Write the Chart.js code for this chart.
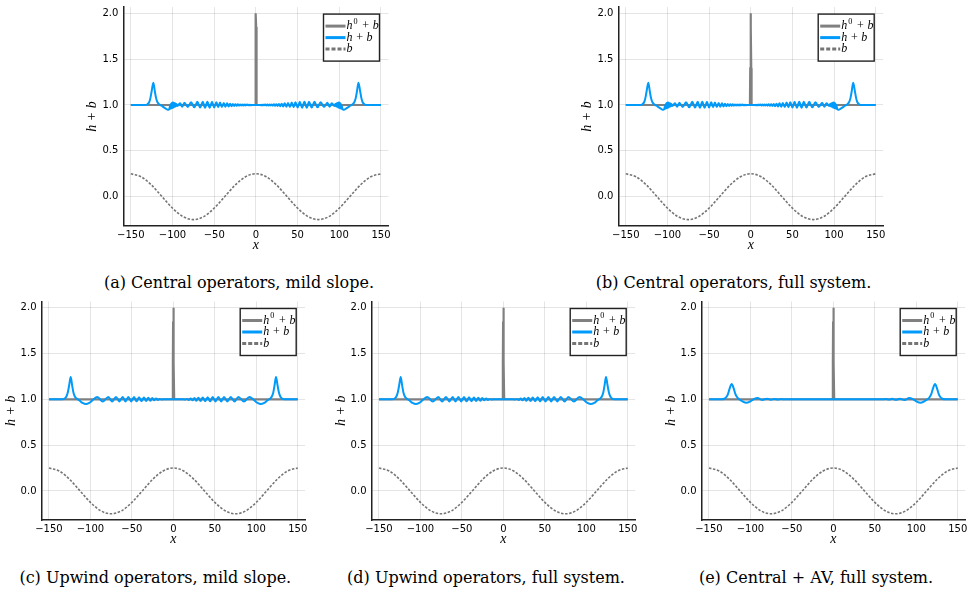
<!DOCTYPE html>
<html><head><meta charset="utf-8">
<script src="https://cdn.jsdelivr.net/npm/chart.js@4.4.0/dist/chart.umd.min.js"></script>
<style>
html,body{margin:0;padding:0;background:#fff;width:974px;height:593px;overflow:hidden;position:relative;}
canvas{position:absolute;}
.cap{position:absolute;font-family:'DejaVu Serif',serif;font-size:16px;line-height:19px;color:#000;white-space:nowrap;transform:translateX(-50%);}
</style></head><body>
<script>
// ---- tick labels ----
const xTicks = [-150, -100, -50, 0, 50, 100, 150];
const yTicks = [0, 0.5, 1, 1.5, 2];
const seriesLabels = ['h^0 + b', 'h + b', 'b'];
const captions = ['(a) Central operators, mild slope.', '(b) Central operators, full system.',
  '(c) Upwind operators, mild slope.', '(d) Upwind operators, full system.', '(e) Central + AV, full system.'];

// ---- initial condition h0 + b ----
const h0X = [-150, -1, -0.6, -0.3, 0, 0.3, 0.6, 1, 150];
const h0Y = [1, 1, 1.4, 1.85, 2, 1.85, 1.4, 1, 1];

// ---- bathymetry b ----
const bX = [-150,-137.5,-125,-112.5,-100,-87.5,-75,-62.5,-50,-37.5,-25,-12.5,0,12.5,25,37.5,50,62.5,75,87.5,100,112.5,125,137.5,150];
const bY = [0.25,0.217,0.125,0,-0.125,-0.217,-0.25,-0.217,-0.125,0,0.125,0.217,0.25,0.217,0.125,0,-0.125,-0.217,-0.25,-0.217,-0.125,0,0.125,0.217,0.25];

// ---- h + b, central operators (panels a, b) ----
const hCentralX = [-150,-133,-130,-128,-126.5,-125,-123,-121.2,-119.7,-118,-115.5,-112,-108,-105.5,-104,
 -103.6,-103.2,-102.8,-102.4,-102,-101.6,-101.2,-100.8,-100.4,-100,-99.6,-99.2,-98.8,-98.4,-98,-97.6,-97.2,-96.8,-96.4,-96,-95.6,-95.2,
 -94.2,-91,-88.3,-85.7,-81.7,-77.7,-73.9,-70.1,-66.9,-63.7,-61,-58.2,-55.4,-52.6,-50,-47.4,-45.2,-43,-40.8,-38.5,-36.5,-34.5,-32.7,-30.9,-29.2,-27.6,-26,-24.5,-23,-21.6,-20.2,-18.9,-17.6,-16.4,-15.2,-14,-12.9,-11.8,-10.8,-9.8,-8.8,-7.9,-7,-6.1,-5.2,-4,
 0,
 4,5.2,6.1,7,7.9,8.8,9.8,10.8,11.8,12.9,14,15.2,16.4,17.6,18.9,20.2,21.6,23,24.5,26,27.6,29.2,30.9,32.7,34.5,36.5,38.5,40.8,43,45.2,47.4,50,52.6,55.4,58.2,61,63.7,66.9,70.1,73.9,77.7,81.7,85.7,88.3,91,94.2,
 95.2,95.6,96,96.4,96.8,97.2,97.6,98,98.4,98.8,99.2,99.6,100,100.4,100.8,101.2,101.6,102,102.4,102.8,103.2,103.6,
 104,105.5,108,112,115.5,118,119.7,121.2,123,125,126.5,128,130,133,150];
const hCentralY = [1,1,1.008,1.03,1.075,1.15,1.243,1.15,1.075,1.03,1.005,0.985,0.96,0.948,0.952,
 0.955,0.99,0.958,1.005,0.962,1.015,0.965,1.022,0.968,1.026,0.97,1.027,0.973,1.025,0.977,1.022,0.98,1.018,0.984,1.014,0.988,1.01,
 0.99,1.018,0.982,1.025,0.978,1.03,0.975,1.034,0.972,1.036,0.97,1.036,0.971,1.034,0.973,1.03,0.976,1.027,0.978,1.022,0.981,1.018,0.984,1.014,0.987,1.011,0.99,1.009,0.992,1.007,0.993,1.006,0.994,1.005,0.995,1.005,0.995,1.004,0.996,1.004,0.996,1.003,0.997,1.003,0.998,1,
 1,
 1,0.998,1.003,0.997,1.003,0.996,1.004,0.996,1.004,0.995,1.005,0.995,1.005,0.994,1.006,0.993,1.007,0.992,1.009,0.99,1.011,0.987,1.014,0.984,1.018,0.981,1.022,0.978,1.027,0.976,1.03,0.973,1.034,0.971,1.036,0.97,1.036,0.972,1.034,0.975,1.03,0.978,1.025,0.982,1.018,0.99,
 1.01,0.988,1.014,0.984,1.018,0.98,1.022,0.977,1.025,0.973,1.027,0.97,1.026,0.968,1.022,0.965,1.015,0.962,1.005,0.958,0.99,0.955,
 0.952,0.948,0.96,0.985,1.005,1.03,1.075,1.15,1.243,1.15,1.075,1.03,1.008,1,1];

// ---- h + b, upwind operators (panels c, d) ----
const hUpwindX = [-150,-134,-131,-129,-127.3,-125.7,-123.8,-122,-120.5,-118.8,-116.3,-113,-109.5,-105.5,-101.5,-97.5,
 -91.7,-85,-78.4,-73.8,-69.2,-65.1,-61.1,-57.7,-54.3,-50.8,-47.4,-44.4,-41.4,-38.4,-35.4,-32.8,-30.2,-27.8,-25.4,-23.1,-20.8,-18.6,-16.5,-14.5,-12,
 0,
 12,14.5,16.5,18.6,20.8,23.1,25.4,27.8,30.2,32.8,35.4,38.4,41.4,44.4,47.4,50.8,54.3,57.7,61.1,65.1,69.2,73.8,78.4,85,91.7,
 97.5,101.5,105.5,109.5,113,116.3,118.8,120.5,122,123.8,125.7,127.3,129,131,134,150];
const hUpwindY = [1,1,1.008,1.03,1.075,1.15,1.243,1.15,1.075,1.03,1.005,0.985,0.96,0.948,0.96,0.99,
 1.025,0.976,1.026,0.977,1.026,0.977,1.026,0.977,1.026,0.977,1.025,0.978,1.023,0.979,1.02,0.981,1.017,0.984,1.013,0.989,1.008,0.993,1.004,0.997,1,
 1,
 1,0.997,1.004,0.993,1.008,0.989,1.013,0.984,1.017,0.981,1.02,0.979,1.023,0.978,1.025,0.977,1.026,0.977,1.026,0.977,1.026,0.977,1.026,0.976,1.025,
 0.99,0.96,0.948,0.96,0.985,1.005,1.03,1.075,1.15,1.243,1.15,1.075,1.03,1.008,1,1];

// ---- h + b, central + artificial viscosity (panel e) ----
const hAVX = [-150,-135,-131.5,-129,-127,-125,-122.6,-120.2,-118.2,-116.2,-113.5,-110,-105,-100.5,-96.5,-91.3,-86,-80,-75.5,-71,-67,-63,-59,
 0,
 55,59,63,67,71,75.5,80,86,91.3,96.5,100.5,105,110,113.5,116.2,118.2,120.2,122.6,125,127,129,131.5,135,150];
const hAVY = [1,1,1.006,1.025,1.06,1.12,1.167,1.12,1.06,1.025,1.0,0.98,0.962,0.975,0.998,1.013,0.993,1.007,0.995,1.004,0.998,1.002,1,
 1,
 1,1,1.002,0.997,1.005,0.994,1.007,0.992,1.013,0.998,0.975,0.962,0.98,1.0,1.025,1.06,1.12,1.167,1.12,1.06,1.025,1.006,1,1];

// ---- layout (plot areas in px) ----
const panels = [
  {hx: hCentralX, hy: hCentralY, area: [123.3, 7.1, 388.5, 225.8], cap: [239, 272.5]},
  {hx: hCentralX, hy: hCentralY, area: [618.3, 7.1, 883.2, 225.8], cap: [733.5, 272.5]},
  {hx: hUpwindX, hy: hUpwindY, area: [41.5, 301.5, 305.2, 520], cap: [155.3, 567.5]},
  {hx: hUpwindX, hy: hUpwindY, area: [371.5, 301.5, 635.2, 520], cap: [486, 567.5]},
  {hx: hAVX, hy: hAVY, area: [701.5, 301.5, 965.2, 520], cap: [816, 567.5]},
];

const GRAY = '#808080', BLUE = '#009AFA', BGRAY = '#757575';
const Y_W = 40, X_H = 28;

function pts(xs, ys) { return xs.map((x, i) => ({x: x, y: ys[i]})); }

function drawMath(ctx, label, x, y, size) {
  let cx = x;
  const parts = label.split(/(\^.)/);
  for (const p of parts) {
    if (!p) continue;
    if (p[0] === '^') {
      ctx.font = `${size * 0.68}px 'Liberation Serif'`;
      ctx.fillText(p[1], cx + 1, y - size * 0.38);
      cx += ctx.measureText(p[1]).width + 2;
    } else {
      ctx.font = `italic ${size}px 'Liberation Serif'`;
      ctx.fillText(p, cx, y);
      cx += ctx.measureText(p).width;
    }
  }
}

const legendPlugin = {
  id: 'boxLegend',
  afterDraw(chart) {
    const a = chart.chartArea, ctx = chart.ctx;
    const bw = 56, bh = 47;
    const bx = a.right - 9 - bw, by = a.top + 7;
    ctx.save();
    ctx.fillStyle = '#fff';
    ctx.fillRect(bx, by, bw, bh);
    ctx.strokeStyle = '#222';
    ctx.lineWidth = 1.4;
    ctx.strokeRect(bx, by, bw, bh);
    chart.data.datasets.forEach((ds, i) => {
      const yy = by + 12 + i * 11.5;
      ctx.beginPath();
      ctx.strokeStyle = ds.borderColor;
      ctx.lineWidth = 3;
      ctx.setLineDash(ds.borderDash && ds.borderDash.length ? [4, 2] : []);
      ctx.moveTo(bx + 2, yy);
      ctx.lineTo(bx + 22, yy);
      ctx.stroke();
      ctx.setLineDash([]);
      ctx.fillStyle = '#000';
      ctx.textBaseline = 'middle';
      ctx.textAlign = 'left';
      drawMath(ctx, ds.label, bx + 23, yy, 12);
    });
    ctx.restore();
  }
};

function fmtX(v) { return v < 0 ? '\u2212' + Math.abs(v) : String(v); }

panels.forEach((p, idx) => {
  const [L, T, R, B] = p.area;
  const cl = Math.floor(L - 46), ct = Math.floor(T - 9);
  const cr = Math.ceil(R + 6), cb = Math.ceil(B + X_H + 4);
  const cv = document.createElement('canvas');
  cv.width = cr - cl; cv.height = cb - ct;
  cv.style.left = cl + 'px'; cv.style.top = ct + 'px';
  cv.style.width = (cr - cl) + 'px'; cv.style.height = (cb - ct) + 'px';
  document.body.appendChild(cv);

  const cap = document.createElement('div');
  cap.className = 'cap';
  cap.textContent = captions[idx];
  cap.style.left = p.cap[0] + 'px';
  cap.style.top = p.cap[1] + 'px';
  document.body.appendChild(cap);

  new Chart(cv, {
    type: 'scatter',
    data: {
      datasets: [
        {label: seriesLabels[0], data: pts(h0X, h0Y), showLine: true, borderColor: GRAY, borderWidth: 2.2,
         pointRadius: 0, tension: 0, order: 3},
        {label: seriesLabels[1], data: pts(p.hx, p.hy), showLine: true, borderColor: BLUE, borderWidth: 2,
         pointRadius: 0, cubicInterpolationMode: 'monotone', order: 2},
        {label: seriesLabels[2], data: pts(bX, bY), showLine: true, borderColor: BGRAY, borderWidth: 1.6,
         borderDash: [2.5, 1.6], pointRadius: 0, cubicInterpolationMode: 'monotone', order: 1},
      ]
    },
    options: {
      responsive: false, animation: false, devicePixelRatio: 1,
      layout: {padding: {left: L - cl - Y_W, top: T - ct, right: cr - R, bottom: cb - B - X_H}},
      plugins: {legend: {display: false}, tooltip: {enabled: false}},
      scales: {
        x: {
          type: 'linear', min: -159, max: 159,
          afterBuildTicks: s => { s.ticks = xTicks.map(v => ({value: v})); },
          afterFit: s => { s.height = X_H; s.paddingLeft = 0; s.paddingRight = 0; s.paddingTop = 0; s.paddingBottom = 0; },
          grid: {color: 'rgba(0,0,0,0.1)', lineWidth: 1, drawTicks: false},
          border: {display: true, color: '#222', width: 1.5},
          ticks: {autoSkip: false, maxRotation: 0, padding: 3.5, color: '#000',
                  font: {family: 'DejaVu Sans', size: 10}, callback: v => fmtX(v)},
          title: {display: true, text: 'x', color: '#000', padding: {top: 0, bottom: 0},
                  font: {family: 'Liberation Serif', style: 'italic', size: 14}}
        },
        y: {
          type: 'linear', min: -0.3175, max: 2.0675,
          afterBuildTicks: s => { s.ticks = yTicks.map(v => ({value: v})); },
          afterFit: s => { s.width = Y_W; s.paddingLeft = 0; s.paddingRight = 0; s.paddingTop = 0; s.paddingBottom = 0; },
          grid: {color: 'rgba(0,0,0,0.1)', lineWidth: 1, drawTicks: false},
          border: {display: true, color: '#222', width: 1.5},
          ticks: {autoSkip: false, padding: 5, color: '#000',
                  font: {family: 'DejaVu Sans', size: 10}, callback: v => Number(v).toFixed(1)},
          title: {display: true, text: 'h + b', color: '#000', padding: {top: 1, bottom: 0},
                  font: {family: 'Liberation Serif', style: 'italic', size: 14}}
        }
      }
    },
    plugins: [legendPlugin]
  });
});
</script>
</body></html>
